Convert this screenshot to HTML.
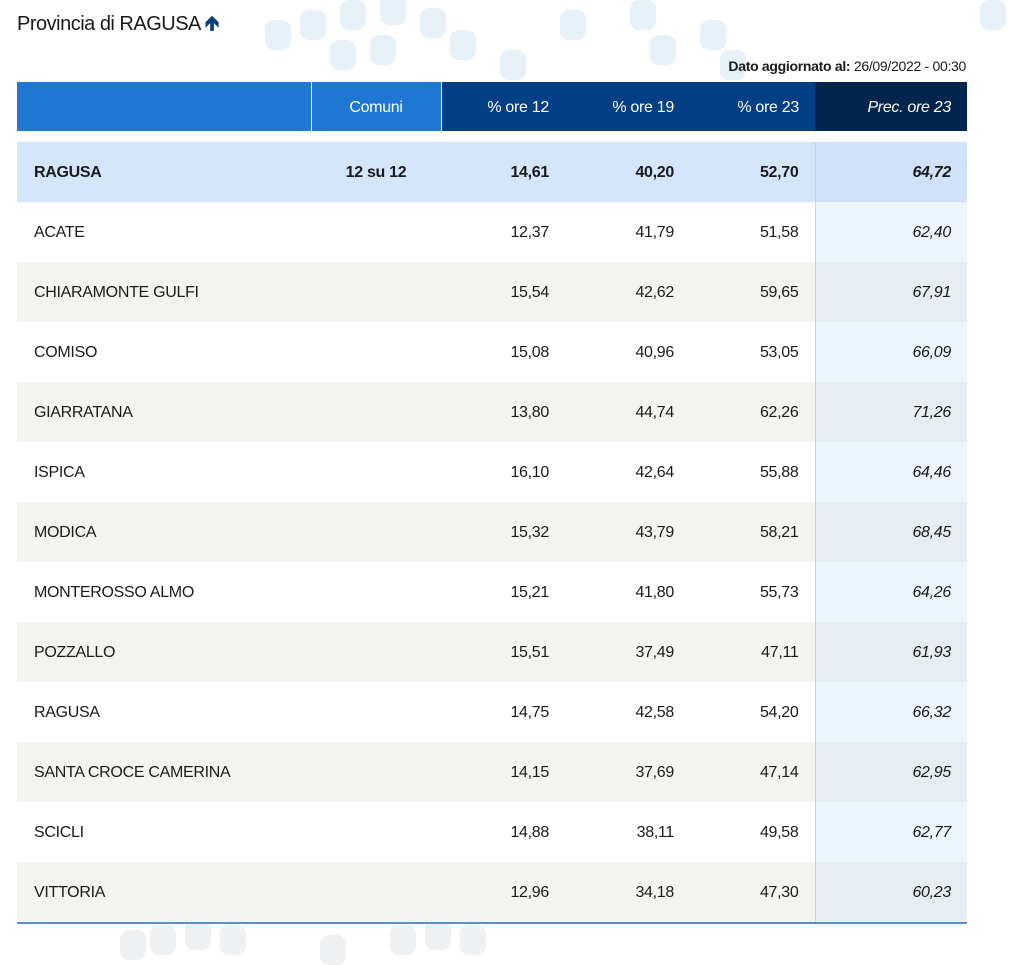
<!DOCTYPE html>
<html><head><meta charset="utf-8"><style>
body{margin:0;width:1023px;height:964px;background:#fff;font-family:"Liberation Sans",sans-serif;position:relative;overflow:hidden;color:#1a1a1a}
.dec{position:absolute;background:#e6f1f8;border-radius:9px;width:26px;height:30px}
.decg{position:absolute;background:#eef0f2;border-radius:9px;width:26px;height:30px}
h1{position:absolute;left:17px;top:9px;margin:0;font-size:20px;font-weight:normal;letter-spacing:-0.5px}
.upd{position:absolute;right:57px;top:58px;font-size:14px;letter-spacing:-0.3px}
table{position:absolute;left:17px;top:82px;width:950px;border-collapse:collapse;font-size:16px;letter-spacing:-0.3px;table-layout:fixed}
td,th{padding:2px 16px 0 17px;height:58px;text-align:right}
th{height:47px;color:#fff;font-weight:normal}
td:first-child,th:first-child{text-align:left}
.c1{text-align:center!important;padding:2px 0 0 0}
tr.gap td{height:11px;padding:0;background:#fff}
tr.tot td{background:#d3e6fb;font-weight:bold}
tr.tot td.p{background:#cfe2f9}
tr.e td{background:#f3f4ef}
tr.e td.p{background:#e7eef1}
tr.o td.p{background:#eef6fd}
td.p{font-style:italic;border-left:1px solid #c9d3dc}
tr.last td{border-bottom:2px solid #5a8fd0}
</style></head><body>
<div class="dec" style="left:265px;top:20px"></div><div class="dec" style="left:300px;top:10px"></div><div class="dec" style="left:340px;top:0"></div><div class="dec" style="left:380px;top:-5px"></div><div class="dec" style="left:420px;top:8px"></div><div class="dec" style="left:450px;top:30px"></div><div class="dec" style="left:330px;top:40px"></div><div class="dec" style="left:370px;top:35px"></div><div class="dec" style="left:560px;top:10px"></div><div class="dec" style="left:630px;top:0"></div><div class="dec" style="left:650px;top:35px"></div><div class="dec" style="left:700px;top:20px"></div><div class="dec" style="left:720px;top:50px"></div><div class="dec" style="left:980px;top:0"></div><div class="dec" style="left:500px;top:50px"></div>
<div class="decg" style="left:120px;top:930px"></div><div class="decg" style="left:150px;top:925px"></div><div class="decg" style="left:185px;top:920px"></div><div class="decg" style="left:220px;top:925px"></div><div class="decg" style="left:320px;top:935px"></div><div class="decg" style="left:390px;top:925px"></div><div class="decg" style="left:425px;top:920px"></div><div class="decg" style="left:460px;top:925px"></div>
<h1>Provincia di RAGUSA <span style="color:#0b3d7a;font-weight:bold">&#129145;</span></h1>
<div class="upd"><b>Dato aggiornato al:</b> 26/09/2022 - 00:30</div>
<table>
<colgroup><col style="width:294px"><col style="width:130px"><col style="width:124px"><col style="width:125px"><col style="width:125px"><col style="width:152px"></colgroup>
<tr><th style="background:#1f77d4"></th><th class="c1" style="background:#1f77d4;border-left:1px solid #fff">Comuni</th><th style="background:#023f84;border-left:1px solid #fff">% ore 12</th><th style="background:#023f84">% ore 19</th><th style="background:#023f84">% ore 23</th><th style="background:#03244d;font-style:italic">Prec. ore 23</th></tr>
<tr class="gap"><td colspan="6"></td></tr>
<tr class="tot"><td>RAGUSA</td><td class="c1">12 su 12</td><td>14,61</td><td>40,20</td><td>52,70</td><td class="p">64,72</td></tr>
<tr class="o"><td>ACATE</td><td></td><td>12,37</td><td>41,79</td><td>51,58</td><td class="p">62,40</td></tr>
<tr class="e"><td>CHIARAMONTE GULFI</td><td></td><td>15,54</td><td>42,62</td><td>59,65</td><td class="p">67,91</td></tr>
<tr class="o"><td>COMISO</td><td></td><td>15,08</td><td>40,96</td><td>53,05</td><td class="p">66,09</td></tr>
<tr class="e"><td>GIARRATANA</td><td></td><td>13,80</td><td>44,74</td><td>62,26</td><td class="p">71,26</td></tr>
<tr class="o"><td>ISPICA</td><td></td><td>16,10</td><td>42,64</td><td>55,88</td><td class="p">64,46</td></tr>
<tr class="e"><td>MODICA</td><td></td><td>15,32</td><td>43,79</td><td>58,21</td><td class="p">68,45</td></tr>
<tr class="o"><td>MONTEROSSO ALMO</td><td></td><td>15,21</td><td>41,80</td><td>55,73</td><td class="p">64,26</td></tr>
<tr class="e"><td>POZZALLO</td><td></td><td>15,51</td><td>37,49</td><td>47,11</td><td class="p">61,93</td></tr>
<tr class="o"><td>RAGUSA</td><td></td><td>14,75</td><td>42,58</td><td>54,20</td><td class="p">66,32</td></tr>
<tr class="e"><td>SANTA CROCE CAMERINA</td><td></td><td>14,15</td><td>37,69</td><td>47,14</td><td class="p">62,95</td></tr>
<tr class="o"><td>SCICLI</td><td></td><td>14,88</td><td>38,11</td><td>49,58</td><td class="p">62,77</td></tr>
<tr class="e last"><td>VITTORIA</td><td></td><td>12,96</td><td>34,18</td><td>47,30</td><td class="p">60,23</td></tr>
</table>
</body></html>
